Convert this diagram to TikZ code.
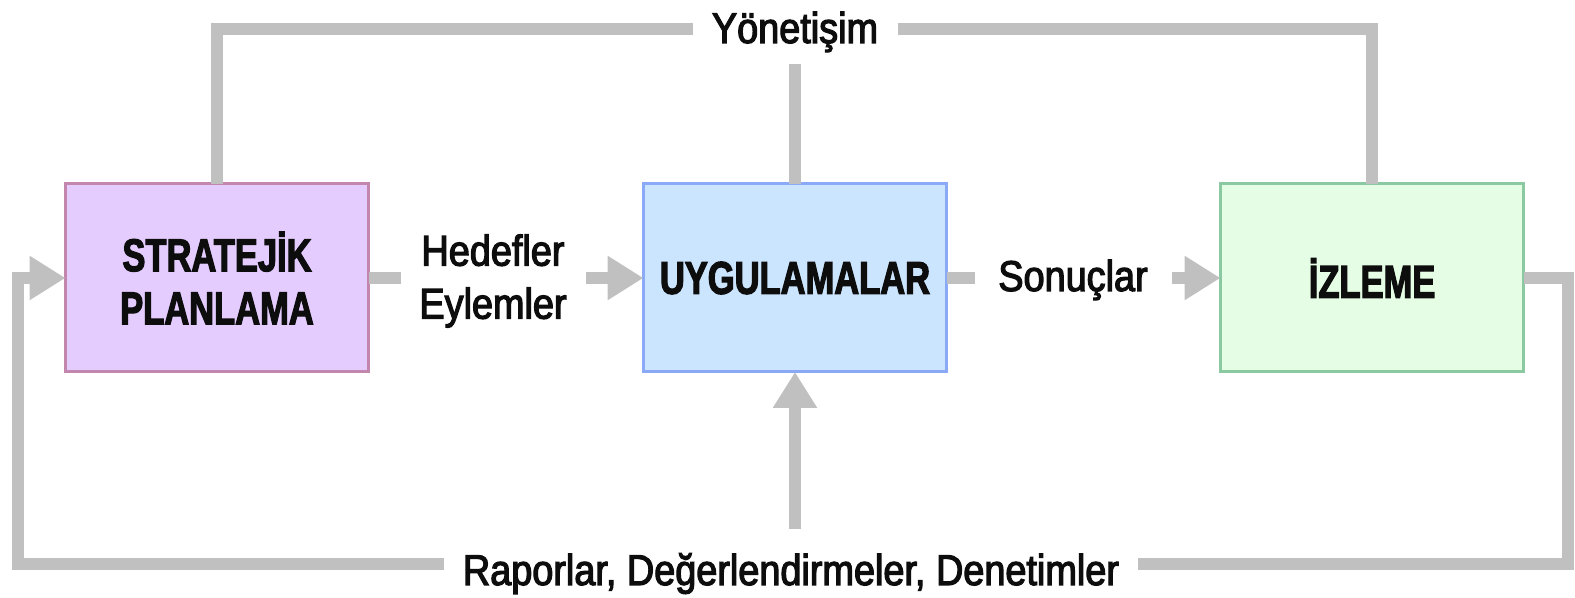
\documentclass[tikz,border=0pt]{standalone}
\usepackage{fontspec}
\usetikzlibrary{arrows.meta}
\newfontfamily\boxfont[FakeStretch=0.75,FakeBold=2.5]{Liberation Sans}
\newfontfamily\labfont[FakeStretch=0.88,FakeBold=2.8]{Liberation Sans}
\definecolor{lgray}{HTML}{C0C0C0}
\definecolor{pfill}{HTML}{E5CCFF}
\definecolor{pdraw}{HTML}{C387AE}
\definecolor{bfill}{HTML}{CCE5FF}
\definecolor{bdraw}{HTML}{8AA9F6}
\definecolor{gfill}{HTML}{E5FDE5}
\definecolor{gdraw}{HTML}{8AC9A2}
\tikzset{
  stagebox/.style={draw, line width=1.5pt, minimum width=151.5pt, minimum height=94pt,
    inner sep=0pt, outer sep=0pt, align=center,
    font=\boxfont\bfseries\fontsize{23pt}{26.5pt}\selectfont, text=black!95},
  lab/.style={fill=white, inner xsep=0pt, inner ysep=6pt, outer sep=0pt, align=center,
    font=\labfont\fontsize{21.5pt}{26.5pt}\selectfont, text=black!95},
  conn/.style={draw=lgray, line width=6pt},
  arr/.style={-{Triangle[length=18pt,width=21pt]}},
}
\begin{document}
\begin{tikzpicture}[x=0.5pt, y=-0.5pt]
\useasboundingbox (0,0) rectangle (1575,598);
% boxes
\node[stagebox, fill=pfill, draw=pdraw] (str) at (217,278) {STRATEJİK\\PLANLAMA};
\node[stagebox, fill=bfill, draw=bdraw] (uyg) at (795,278) {UYGULAMALAR};
\node[stagebox, fill=gfill, draw=gdraw] (izl) at (1372,278) {İZLEME};
% labels
\node[lab, minimum width=102.5pt, anchor=base] (yon) at (795,43) {Yönetişim};
\node[lab, minimum width=92.5pt] (hed) at (493,281) {Hedefler\\Eylemler};
\node[lab, minimum width=98.5pt, anchor=base] (son) at (1073,291) {Sonuçlar};
\node[lab, minimum width=347pt, anchor=base, inner ysep=12pt] (rap) at (791,585) {Raporlar, Değerlendirmeler, Denetimler};
% helper coordinates
\coordinate (ytop) at (0,29);
\coordinate (ybot) at (0,564);
\coordinate (xl) at (18,0);
\coordinate (xr) at (1568,0);
% connectors
\draw[conn] (str.north) |- (yon.west |- ytop);
\draw[conn] (yon.east |- ytop) -| (izl.north);
\draw[conn] (uyg.north) -- (uyg.north |- yon.south);
\draw[conn] (str.east) -- (str.east -| hed.west);
\draw[conn, arr] (hed.east |- uyg.west) -- (uyg.west);
\draw[conn] (uyg.east) -- (uyg.east -| son.west);
\draw[conn, arr] (son.east |- izl.west) -- (izl.west);
\draw[conn] (izl.east) -| (xr |- ybot) -- (rap.east |- ybot);
\draw[conn, arr] (rap.west |- ybot) -| (xl |- str.west) -- (str.west);
\draw[conn, arr] (rap.north -| uyg.south) -- (uyg.south);
\end{tikzpicture}
\end{document}
